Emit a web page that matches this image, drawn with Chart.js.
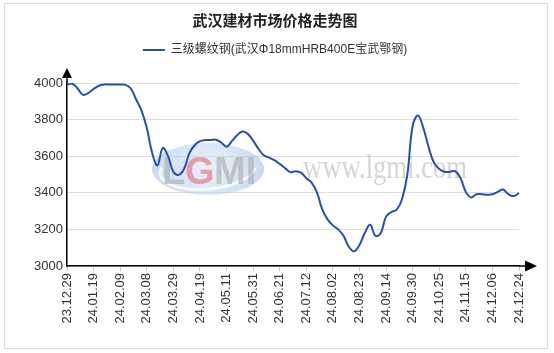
<!DOCTYPE html>
<html>
<head>
<meta charset="utf-8">
<script src="https://cdn.jsdelivr.net/npm/chart.js@4.4.1/dist/chart.umd.min.js"></script>
<style>
  html, body { margin: 0; padding: 0; background: #fff; }
  #wrap { width: 554px; height: 353px; }
</style>
</head>
<body>
<div id="wrap"><canvas id="priceChart" width="554" height="353"></canvas></div>
<script>
// tick dates (one label every 5 points)
var tickLabels = ["23.12.29", "24.01.19", "24.02.09", "24.03.08", "24.03.29", "24.04.19",
    "24.05.11", "24.05.31", "24.06.21", "24.07.12", "24.08.02", "24.08.23",
    "24.09.14", "24.09.30", "24.10.25", "24.11.15", "24.12.06", "24.12.24"];
var seriesName = "三级螺纹钢(武汉Φ18mmHRB400E宝武鄂钢)";
// price, yuan/t
var prices = [
    3990, 3996, 3970, 3935, 3945, 3967, 3985, 3992, 3992, 3992,
    3992, 3990, 3970, 3910, 3850, 3755, 3620, 3550, 3645, 3600,
    3515, 3498, 3530, 3615, 3660, 3682, 3688, 3688, 3690, 3675,
    3652, 3682, 3715, 3735, 3722, 3685, 3640, 3605, 3593, 3578,
    3558, 3535, 3513, 3518, 3510, 3480, 3456, 3402, 3310, 3255,
    3222, 3200, 3165, 3105, 3080, 3115, 3180, 3225, 3165, 3180,
    3270, 3295, 3308, 3365, 3500, 3765, 3822, 3755, 3650, 3565,
    3530, 3515, 3515, 3518, 3480, 3405, 3375, 3392, 3392, 3390,
    3392, 3405, 3418, 3392, 3382, 3398
];
var yTicks = [3000, 3200, 3400, 3600, 3800, 4000];

var step = 5;
var labels = prices.map(function (v, i) {
    return i % step === 0 ? tickLabels[i / step] : "";
});

var tickFont = { family: "Arial, 'Liberation Sans', sans-serif", size: 13 };

// frame, watermark and axis arrows
var decorations = {
    id: "decorations",
    beforeDraw: function (chart) {
        var c = chart.ctx;
        c.save();
        c.fillStyle = "#fff";
        c.fillRect(0, 0, chart.width, chart.height);
        c.strokeStyle = "#d9d9d9";
        c.lineWidth = 1;
        c.strokeRect(4.5, 3.5, 543, 345);
        c.restore();
    },
    beforeDatasetsDraw: function (chart) {
        var c = chart.ctx;
        c.save();
        // LGMI logo
        var g = c.createRadialGradient(208, 168, 5, 208, 168, 60);
        g.addColorStop(0, "rgba(210,226,244,0.55)");
        g.addColorStop(1, "rgba(150,185,225,0.55)");
        c.fillStyle = g;
        c.beginPath();
        c.ellipse(208, 169, 56, 26, 0, 0, Math.PI * 2);
        c.fill();
        c.strokeStyle = "rgba(255,255,255,0.8)";
        c.lineWidth = 3;
        c.beginPath();
        c.ellipse(208, 169, 48, 20, -0.1, 0.2, Math.PI * 1.1);
        c.stroke();
        c.font = "bold 38px 'Liberation Sans', Arial, sans-serif";
        c.textBaseline = "alphabetic";
        c.fillStyle = "rgba(170,170,170,0.6)";
        c.fillText("L", 162, 184);
        c.fillStyle = "rgba(228,95,105,0.55)";
        c.fillText("G", 185, 184);
        c.fillStyle = "rgba(170,170,170,0.6)";
        c.fillText("MI", 214, 184);
        // site watermark
        c.font = "34px 'Liberation Serif', 'Times New Roman', serif";
        c.fillStyle = "rgba(150,150,150,0.4)";
        c.fillText("www.lgmi.com", 303, 178, 164);
        c.restore();
    },
    afterDraw: function (chart) {
        var a = chart.chartArea;
        var c = chart.ctx;
        c.save();
        c.strokeStyle = "#000";
        c.fillStyle = "#000";
        c.lineWidth = 1.5;
        c.beginPath();
        c.moveTo(a.left, a.top);
        c.lineTo(a.left, 76);
        c.moveTo(a.right, a.bottom);
        c.lineTo(526, a.bottom);
        c.stroke();
        c.beginPath();
        c.moveTo(a.left, 68);
        c.lineTo(a.left - 5, 78);
        c.lineTo(a.left + 5, 78);
        c.closePath();
        c.fill();
        c.beginPath();
        c.moveTo(537, a.bottom);
        c.lineTo(525, a.bottom - 5.5);
        c.lineTo(525, a.bottom + 5.5);
        c.closePath();
        c.fill();
        c.restore();
    }
};

var ctx = document.getElementById("priceChart").getContext("2d");
var priceChart = new Chart(ctx, {
    type: "line",
    data: {
        labels: labels,
        datasets: [{
            label: seriesName,
            data: prices,
            borderColor: "#2a50a6",
            backgroundColor: "#2a50a6",
            borderWidth: 2,
            pointRadius: 0,
            tension: 0.4,
            fill: false
        }]
    },
    options: {
        responsive: false,
        animation: false,
        layout: { padding: { left: 31, right: 35, top: 0, bottom: 0 } },
        plugins: {
            title: {
                display: true,
                text: "武汉建材市场价格走势图",
                color: "#222",
                font: { family: "'Noto Sans CJK SC', sans-serif", size: 15, weight: "bold" },
                padding: { top: 11, bottom: 0 }
            },
            legend: {
                display: true,
                labels: {
                    color: "#333",
                    font: { family: "Arial, 'Liberation Sans', 'Noto Sans CJK SC', sans-serif", size: 12 },
                    usePointStyle: true,
                    pointStyle: "line",
                    pointStyleWidth: 22,
                    padding: 15
                }
            },
            tooltip: { enabled: false }
        },
        scales: {
            x: {
                type: "category",
                afterBuildTicks: function (scale) {
                    scale.ticks = scale.ticks.filter(function (t) { return t.value % step === 0; });
                },
                afterFit: function (scale) { scale.height = 87; },
                ticks: {
                    autoSkip: false,
                    maxRotation: 90,
                    minRotation: 90,
                    color: "#333",
                    font: tickFont,
                    padding: 2
                },
                grid: { drawOnChartArea: false, color: "#c8c8c8", tickLength: 5 },
                border: { color: "#000", width: 1.5 }
            },
            // empty band between the legend and the plot
            gap: {
                type: "category",
                axis: "x",
                position: "top",
                afterFit: function (scale) { scale.height = 17; },
                ticks: { display: false },
                grid: { display: false },
                border: { display: false }
            },
            y: {
                min: 3000,
                max: 4000,
                afterBuildTicks: function (scale) {
                    scale.ticks = yTicks.map(function (v) { return { value: v }; });
                },
                afterFit: function (scale) { scale.width = 36; },
                ticks: {
                    color: "#333",
                    font: tickFont,
                    padding: 4,
                    callback: function (v) { return String(v); }
                },
                grid: {
                    color: "#dedede",
                    drawTicks: false
                },
                border: { color: "#000", width: 1.5 }
            }
        }
    },
    plugins: [decorations]
});
</script>
</body>
</html>
